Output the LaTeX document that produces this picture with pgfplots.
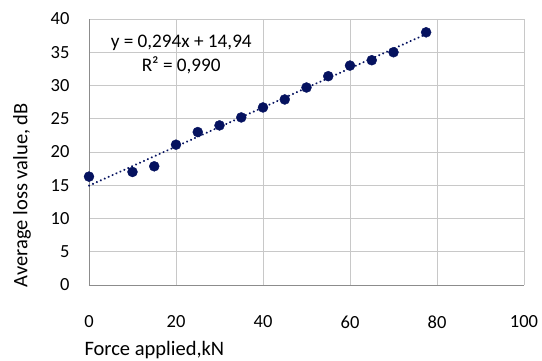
\documentclass[border=0pt]{standalone}
\usepackage{pgfplots}
\pgfplotsset{compat=1.18}
\usepackage{fontspec}
\setmainfont{Carlito}
\definecolor{navy}{RGB}{5,18,95}
\definecolor{gridc}{RGB}{200,200,200}
\definecolor{axc}{RGB}{140,140,140}
\newcommand{\fs}{\fontsize{18.5}{22}\selectfont}
\newcommand{\fl}{\fontsize{20.5}{24}\selectfont}
\newcommand{\fe}{\fontsize{19.2}{23}\selectfont}
\begin{document}
\begin{tikzpicture}
\path[use as bounding box] (-89pt,-75pt) rectangle (453pt,285pt);
\begin{axis}[
  at={(0,0)}, anchor=south west,
  scale only axis, width=435pt, height=266pt,
  xmin=0, xmax=100, ymin=0, ymax=40,
  xtick={0,20,40,60,80,100},
  ytick={0,5,10,15,20,25,30,35,40},
  grid=major,
  major grid style={gridc, line width=0.9pt},
  axis lines=left,
  axis line style={-, axc, line width=0.9pt},
  major tick length=0pt,
  tick label style={font=\fs},
  /pgf/number format/assume math mode=true,
  xticklabel style={yshift=-27pt},
  yticklabel style={xshift=-16pt},
  xlabel={Force applied,kN},
  xlabel style={font=\fl, at={(rel axis cs:0,0)}, anchor=west, xshift=-8pt, yshift=-65pt},
  ylabel={Average loss value, dB},
  ylabel style={font=\fl, at={(rel axis cs:-0.154,0.338)}, anchor=center},
  clip=false,
]
\addplot[navy, line width=2.2pt, dash pattern=on 0.1pt off 4.2pt, line cap=round]
  coordinates {(0,14.94) (77.5,37.73)};
\addplot[only marks, mark=*, mark size=5pt, navy, mark options={fill=navy, draw=navy}]
  coordinates {
    (0,16.3) (10,17.0) (15,17.85) (20,21.1) (25,23.0) (30,24.0) (35,25.2)
    (40,26.7) (45,27.9) (50,29.7) (55,31.4) (60,33.0) (65,33.8) (70,35.0) (77.5,38.0)
  };
\node[font=\fe, align=center] at (axis cs:21.2,36.4) {y = 0,294x + 14,94};
\node[font=\fe, align=center] at (axis cs:21.2,33.1) {R² = 0,990};
\end{axis}
\end{tikzpicture}
\end{document}
